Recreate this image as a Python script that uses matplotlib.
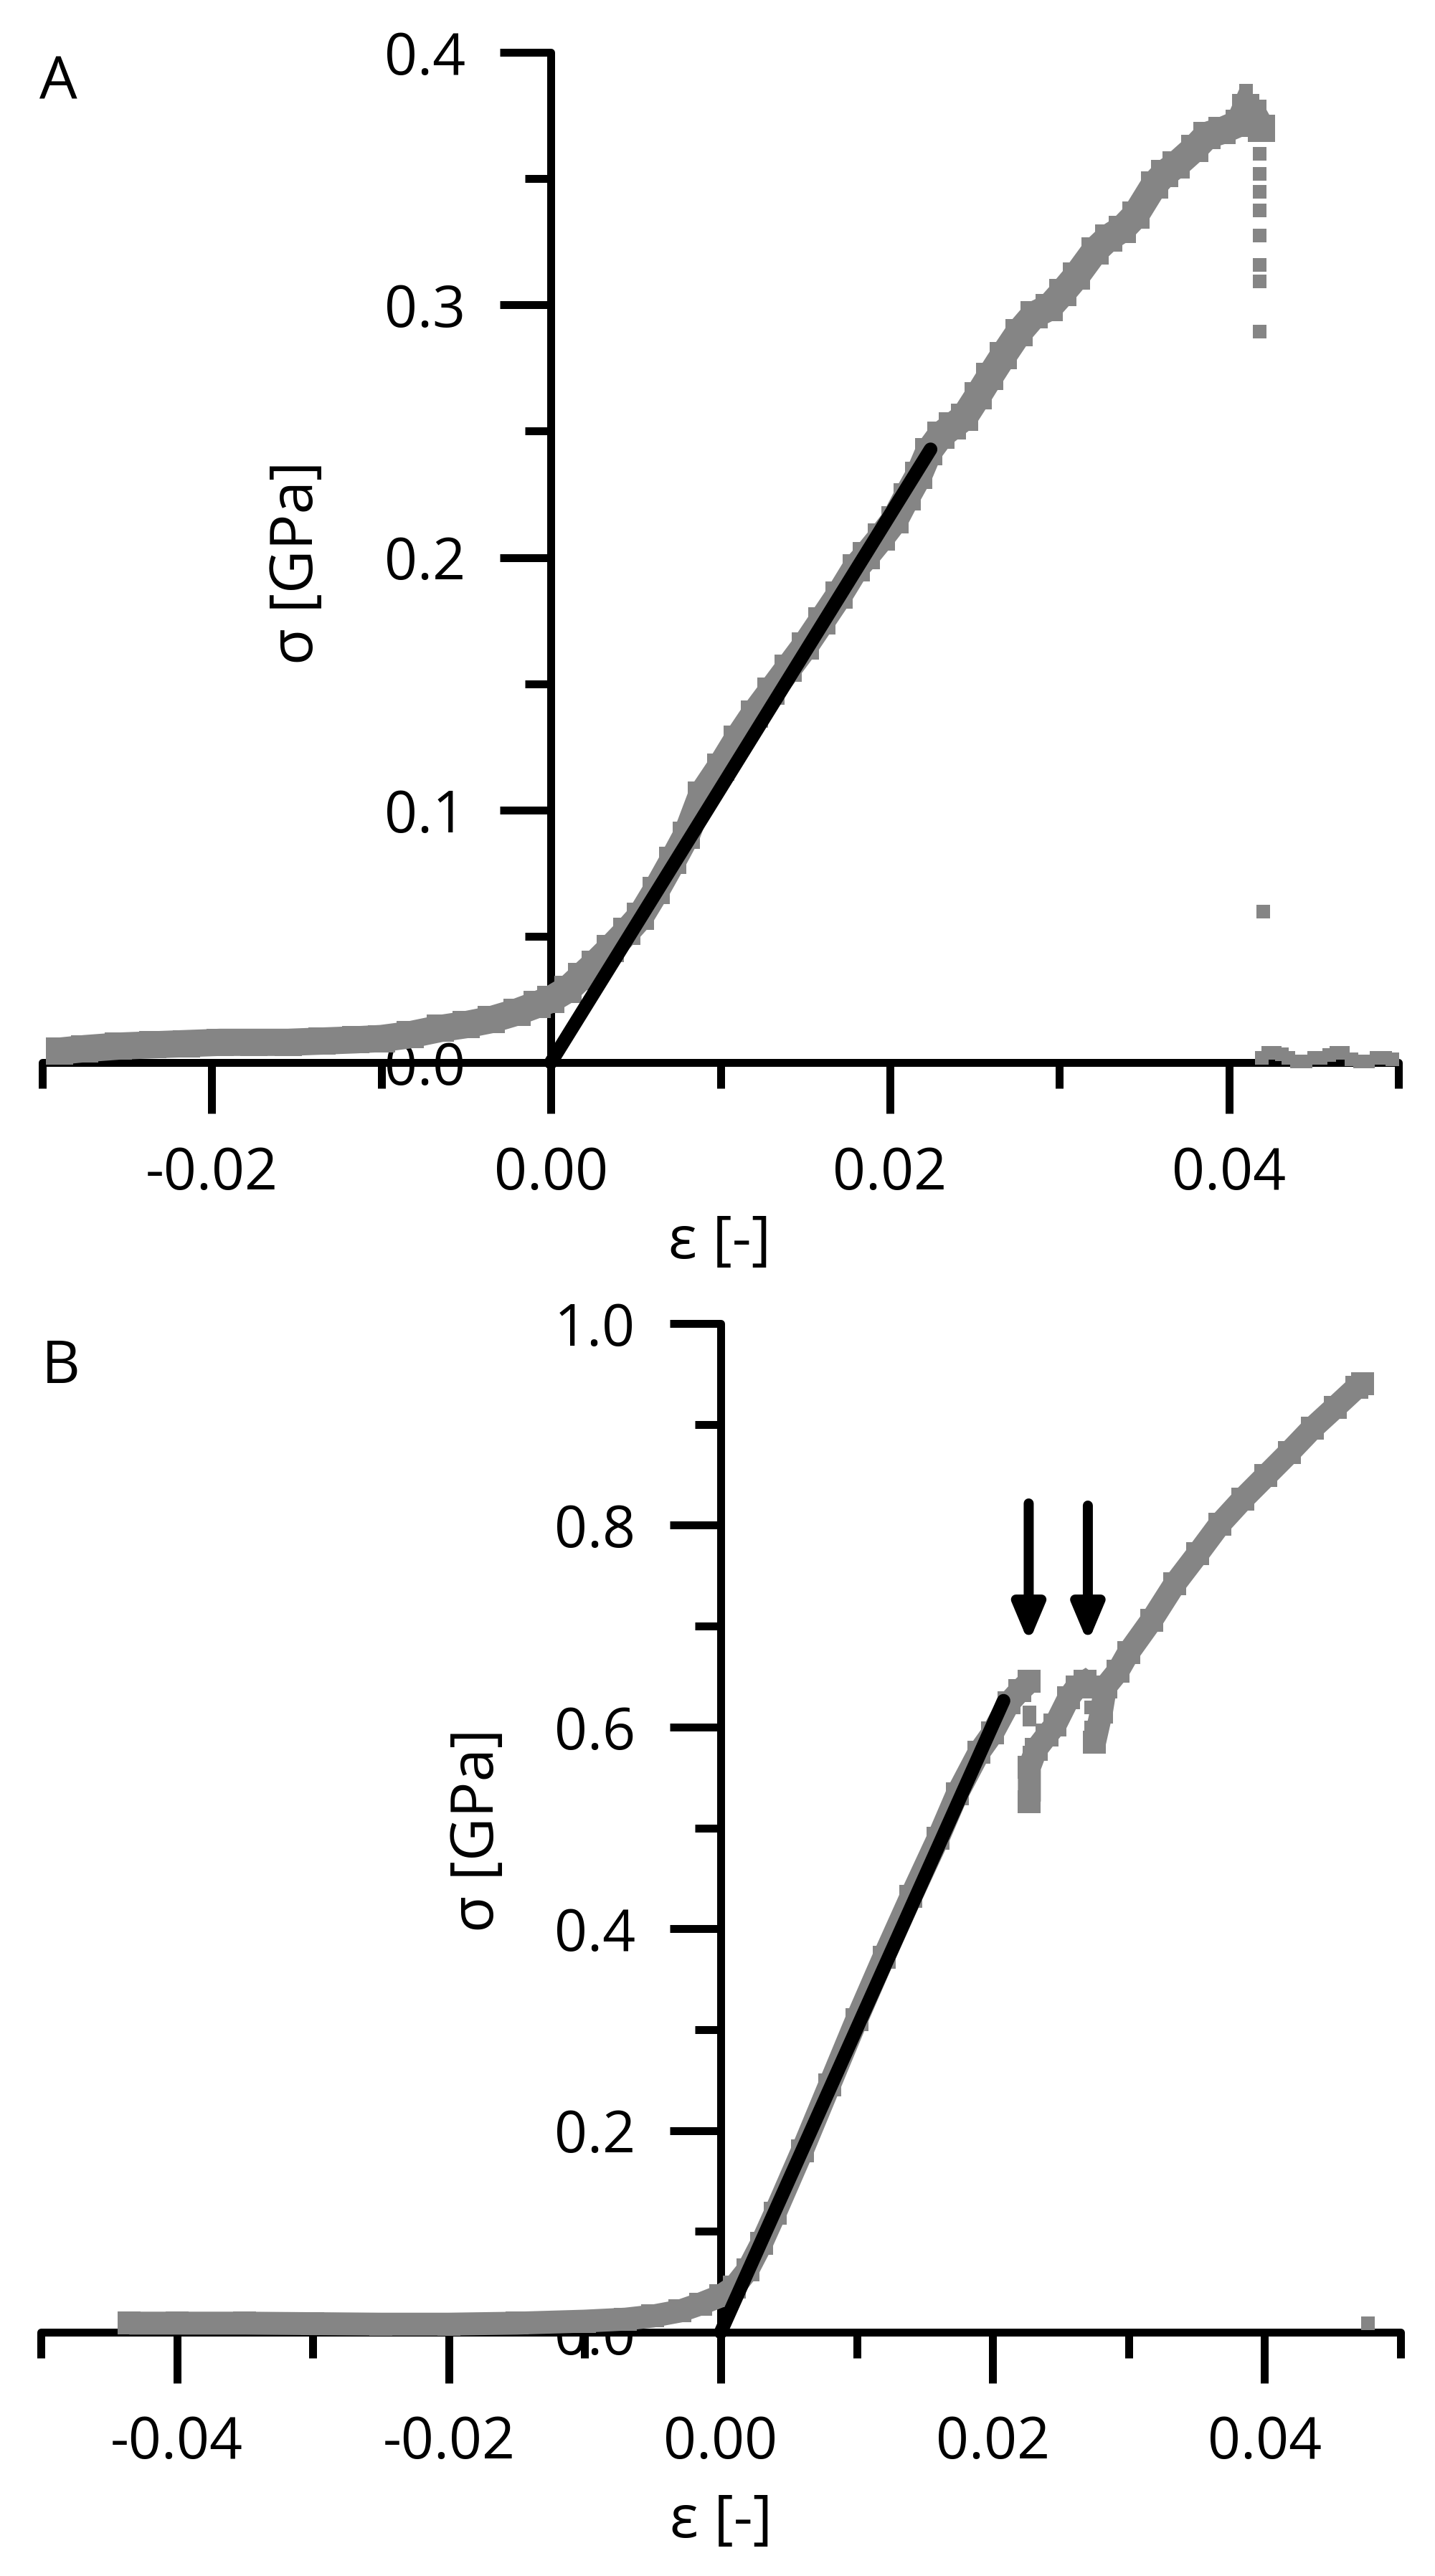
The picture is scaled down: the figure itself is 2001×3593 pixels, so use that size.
import matplotlib
matplotlib.use('Agg')
import matplotlib.pyplot as plt
from matplotlib.ticker import FixedLocator, FixedFormatter

plt.rcParams['font.family'] = ['Open Sans', 'DejaVu Sans']

# ---------------- data: panel A ----------------
eps_a = [-0.0290, -0.0275, -0.0255, -0.0235, -0.0215, -0.0195, -0.0175, -0.0155,
         -0.0135, -0.0115, -0.0100, -0.0083, -0.0065, -0.0050, -0.0035, -0.0020,
         -0.0008, 0.0000, 0.0010, 0.0018, 0.0026, 0.0035, 0.0045, 0.0053, 0.0062,
         0.0072, 0.0080, 0.0089, 0.0100, 0.0110, 0.0120, 0.0130, 0.0140, 0.0150,
         0.0160, 0.0170, 0.0180, 0.0186, 0.0195, 0.0203, 0.0210, 0.0217, 0.0223,
         0.0230, 0.0237, 0.0244, 0.0252, 0.0259, 0.0267, 0.0276, 0.0285, 0.0294,
         0.0302, 0.0310, 0.0321, 0.0329, 0.0337, 0.0345, 0.0356, 0.0362, 0.0369,
         0.0380, 0.0387, 0.0396, 0.0406, 0.0410, 0.0414, 0.0419]
sig_a = [0.0045, 0.0055, 0.0065, 0.0070, 0.0075, 0.0080, 0.0080, 0.0080,
         0.0085, 0.0090, 0.0095, 0.0110, 0.0135, 0.0150, 0.0170, 0.0200,
         0.0230, 0.0250, 0.0290, 0.0340, 0.0390, 0.0450, 0.0520, 0.0580, 0.0680,
         0.0800, 0.0900, 0.1060, 0.1170, 0.1280, 0.1380, 0.1470, 0.1560, 0.1650,
         0.1750, 0.1850, 0.1960, 0.2006, 0.2080, 0.2150, 0.2240, 0.2325, 0.2420,
         0.2484, 0.2520, 0.2556, 0.2640, 0.2716, 0.2800, 0.2890, 0.2960, 0.2990,
         0.3050, 0.3114, 0.3215, 0.3266, 0.3300, 0.3356, 0.3476, 0.3520, 0.3555,
         0.3621, 0.3671, 0.3690, 0.3719, 0.3780, 0.3760, 0.3700]
# isolated points: peak spike, drop after failure, residual
eps_a_pts = [0.0410, 0.0410, 0.0418, 0.0418, 0.0418, 0.0418, 0.0418, 0.0418,
             0.0418, 0.0418, 0.0420]
sig_a_pts = [0.3850, 0.3780, 0.3600, 0.3520, 0.3450, 0.3375, 0.3275, 0.3160,
             0.3095, 0.2895, 0.0600]
eps_a_post = [0.0419, 0.0423, 0.0427, 0.0431, 0.0435, 0.0440, 0.0445, 0.0450,
              0.0454, 0.0459, 0.0463, 0.0467, 0.0472, 0.0477, 0.0482, 0.0487,
              0.0492, 0.0496]
sig_a_post = [0.0020, 0.0040, 0.0040, 0.0035, 0.0020, 0.0005, 0.0005, 0.0020,
              0.0020, 0.0030, 0.0040, 0.0040, 0.0015, 0.0005, 0.0005, 0.0020,
              0.0020, 0.0015]
fit_a_eps = [0.0, 0.0224]
fit_a_sig = [0.0, 0.2428]

# ---------------- data: panel B ----------------
eps_b1 = [-0.0435, -0.0400, -0.0350, -0.0300, -0.0250, -0.0200, -0.0150, -0.0100,
          -0.0070, -0.0050, -0.0030, -0.0015, 0.0000, 0.0010, 0.0020, 0.0030,
          0.0040, 0.0060, 0.0080, 0.0100, 0.0120, 0.0140, 0.0160, 0.0174,
          0.0190, 0.0200, 0.0212, 0.0220, 0.0227]
sig_b1 = [0.009, 0.009, 0.009, 0.0085, 0.008, 0.008, 0.009, 0.011,
          0.013, 0.016, 0.021, 0.028, 0.036, 0.045, 0.062, 0.088,
          0.118, 0.180, 0.245, 0.310, 0.372, 0.432, 0.490, 0.534,
          0.575, 0.594, 0.624, 0.636, 0.645]
eps_b2 = [0.0227, 0.0227, 0.0232, 0.0240, 0.0246, 0.0256, 0.0262, 0.0268, 0.0273]
sig_b2 = [0.526, 0.560, 0.578, 0.592, 0.602, 0.629, 0.640, 0.645, 0.640]
eps_b3 = [0.0275, 0.0280, 0.0283, 0.0292, 0.0300, 0.0317, 0.0334, 0.0351,
          0.0367, 0.0384, 0.0401, 0.0418, 0.0435, 0.0452, 0.0468, 0.0472]
sig_b3 = [0.585, 0.615, 0.640, 0.655, 0.674, 0.706, 0.742, 0.772,
          0.801, 0.826, 0.849, 0.872, 0.896, 0.917, 0.937, 0.940]
eps_b_pts = [0.0227, 0.0227, 0.0227, 0.0272, 0.0272, 0.0476]
sig_b_pts = [0.615, 0.608, 0.575, 0.620, 0.600, 0.009]
fit_b_eps = [0.0, 0.0208]
fit_b_sig = [0.0, 0.626]
arrow_eps = [0.02265, 0.0270]
arrow_tail = [0.8216, 0.8195]
arrow_tip = [0.6835, 0.6835]

# ---------------- axes ticks / labels ----------------
a_xmaj = [-0.02, 0.0, 0.02, 0.04]
a_xmaj_lbl = ['-0.02', '0.00', '0.02', '0.04']
a_xmin = [-0.03, -0.01, 0.01, 0.03, 0.05]
a_ymaj = [0.0, 0.1, 0.2, 0.3, 0.4]
a_ymaj_lbl = ['0.0', '0.1', '0.2', '0.3', '0.4']
a_ymin = [0.05, 0.15, 0.25, 0.35]

b_xmaj = [-0.04, -0.02, 0.0, 0.02, 0.04]
b_xmaj_lbl = ['-0.04', '-0.02', '0.00', '0.02', '0.04']
b_xmin = [-0.05, -0.03, -0.01, 0.01, 0.03, 0.05]
b_ymaj = [0.0, 0.2, 0.4, 0.6, 0.8, 1.0]
b_ymaj_lbl = ['0.0', '0.2', '0.4', '0.6', '0.8', '1.0']
b_ymin = [0.1, 0.3, 0.5, 0.7, 0.9]

GRAY = '#858585'
DPI = 200
W, H = 2001, 3593


def px(p):
    return p * 72.0 / DPI


fig = plt.figure(figsize=(W / DPI, H / DPI), dpi=DPI)
fig.patch.set_facecolor('white')

axA = fig.add_axes([59 / W, 1 - 1482 / H, 1891 / W, 1409 / H])
axB = fig.add_axes([57 / W, 1 - 3253 / H, 1896 / W, 1407 / H])

FS = 29


def style(ax, xlim, ylim, xmaj, xlbl, xmin, ymaj, ylbl, ymin):
    ax.set_xlim(*xlim)
    ax.set_ylim(*ylim)
    ax.set_facecolor('none')
    for s in ['top', 'right']:
        ax.spines[s].set_visible(False)
    ax.spines['left'].set_position(('data', 0))
    for s in ['left', 'bottom']:
        ax.spines[s].set_linewidth(px(11))
        ax.spines[s].set_capstyle('round')
        ax.spines[s].set_zorder(1)
    ax.xaxis.set_major_locator(FixedLocator(xmaj))
    ax.xaxis.set_major_formatter(FixedFormatter(xlbl))
    ax.xaxis.set_minor_locator(FixedLocator(xmin))
    ax.yaxis.set_major_locator(FixedLocator(ymaj))
    ax.yaxis.set_major_formatter(FixedFormatter(ylbl))
    ax.yaxis.set_minor_locator(FixedLocator(ymin))
    ax.tick_params(which='major', length=px(71), width=px(11), direction='out',
                   labelsize=FS, color='black')
    ax.tick_params(which='minor', length=px(36), width=px(11), direction='out')
    ax.tick_params(axis='x', which='major', pad=px(44))
    ax.tick_params(axis='y', which='major', pad=px(48))
    ax.xaxis.set_zorder(1)
    ax.yaxis.set_zorder(1)


style(axA, (-0.03, 0.05), (0.0, 0.4), a_xmaj, a_xmaj_lbl, a_xmin,
      a_ymaj, a_ymaj_lbl, a_ymin)
style(axB, (-0.05, 0.05), (0.0, 1.0), b_xmaj, b_xmaj_lbl, b_xmin,
      b_ymaj, b_ymaj_lbl, b_ymin)


def band(w):
    return dict(color=GRAY, lw=px(w), marker='s', ms=px(w), mew=0,
                solid_joinstyle='miter', solid_capstyle='butt', zorder=3,
                clip_on=False)


dots = dict(color=GRAY, ls='none', marker='s', ms=px(19), mew=0, zorder=3, clip_on=False)

# Panel A
axA.plot(eps_a, sig_a, **band(38))
axA.plot(eps_a_pts, sig_a_pts, **dots)
axA.plot(eps_a_post, sig_a_post, **dots)
axA.plot(fit_a_eps, fit_a_sig, color='black', lw=px(19), solid_capstyle='round',
         zorder=4, clip_on=False)

# Panel B
axB.plot(eps_b1, sig_b1, **band(32))
axB.plot(eps_b2, sig_b2, **band(32))
axB.plot(eps_b3, sig_b3, **band(32))
axB.plot(eps_b_pts, sig_b_pts, **dots)
axB.plot(fit_b_eps, fit_b_sig, color='black', lw=px(19), solid_capstyle='round',
         zorder=4, clip_on=False)
for xe, yt, yh in zip(arrow_eps, arrow_tail, arrow_tip):
    axB.annotate('', xy=(xe, yh), xytext=(xe, yt),
                 arrowprops=dict(arrowstyle='-|>,head_length=0.38,head_width=0.16',
                                 lw=px(14), color='black', shrinkA=0, shrinkB=0,
                                 mutation_scale=40, capstyle='round',
                                 joinstyle='round'),
                 zorder=5)

# axis titles and panel letters
fig.text(415 / W, 1 - 785 / H, 'σ [GPa]', rotation=90, ha='center', va='center',
         fontsize=30)
fig.text(1003 / W, 1 - 1734 / H, 'ε [-]', ha='center', va='center', fontsize=30)
fig.text(667 / W, 1 - 2553 / H, 'σ [GPa]', rotation=90, ha='center', va='center',
         fontsize=30)
fig.text(1006 / W, 1 - 3518 / H, 'ε [-]', ha='center', va='center', fontsize=30)
fig.text(55 / W, 1 - 117 / H, 'A', ha='left', va='center', fontsize=30)
fig.text(58 / W, 1 - 1908 / H, 'B', ha='left', va='center', fontsize=30)

fig.savefig('out.png', dpi=DPI, facecolor='white')
